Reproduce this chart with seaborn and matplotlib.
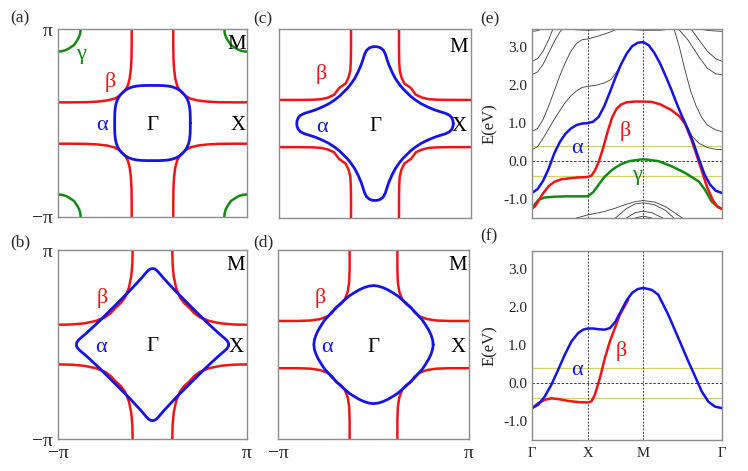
import numpy as np
import matplotlib
matplotlib.use("Agg")
import matplotlib.pyplot as plt
from matplotlib.ticker import MultipleLocator
import seaborn as sns

# ---------------------------------------------------------------------------
# Fermi surfaces: first quadrant only (kx, ky in units of pi), mirrored later
# ---------------------------------------------------------------------------
A_ALPHA_KX = [0.40, 0.40, 0.398, 0.393, 0.383, 0.368, 0.347, 0.32, 0.29, 0.255, 0.215, 0.17, 0.12, 0.06, 0.0]
A_ALPHA_KY = [0.0, 0.06, 0.12, 0.17, 0.215, 0.255, 0.29, 0.32, 0.347, 0.368, 0.383, 0.393, 0.398, 0.40, 0.40]
A_BETA_KX = [0.22, 0.22, 0.222, 0.228, 0.24, 0.26, 0.285, 0.32, 0.355, 0.40, 0.48, 0.58, 0.70, 0.85, 1.0]
A_BETA_KY = [1.0, 0.85, 0.70, 0.58, 0.48, 0.40, 0.355, 0.32, 0.285, 0.26, 0.24, 0.228, 0.222, 0.22, 0.22]
A_GAMMA_KX = [0.76, 0.764, 0.776, 0.796, 0.83, 0.88, 0.918, 0.958, 1.0]
A_GAMMA_KY = [1.0, 0.958, 0.918, 0.88, 0.83, 0.796, 0.776, 0.764, 0.76]

B_ALPHA_KX = [0.805, 0.802, 0.79, 0.765, 0.70, 0.56, 0.405, 0.25, 0.12, 0.065, 0.04, 0.02, 0.0]
B_ALPHA_KY = [0.0, 0.02, 0.04, 0.065, 0.12, 0.25, 0.405, 0.56, 0.70, 0.765, 0.79, 0.802, 0.805]
B_BETA_KX = [0.21, 0.213, 0.225, 0.25, 0.29, 0.335, 0.39, 0.44, 0.50, 0.60, 0.72, 0.85, 1.0]
B_BETA_KY = [1.0, 0.85, 0.72, 0.60, 0.50, 0.44, 0.39, 0.335, 0.29, 0.25, 0.225, 0.213, 0.21]

C_ALPHA_KX = [0.815, 0.812, 0.80, 0.775, 0.735, 0.68, 0.62, 0.55, 0.48, 0.42, 0.37, 0.33,
              0.29, 0.25, 0.21, 0.175, 0.145, 0.125, 0.108, 0.088, 0.06, 0.03, 0.0]
C_ALPHA_KY = [0.0, 0.03, 0.06, 0.088, 0.108, 0.125, 0.145, 0.175, 0.21, 0.25, 0.29, 0.33,
              0.37, 0.42, 0.48, 0.55, 0.62, 0.68, 0.735, 0.775, 0.80, 0.812, 0.815]
C_BETA_KX = [0.25, 0.25, 0.252, 0.258, 0.275, 0.305, 0.375, 0.425, 0.49, 0.56, 0.65, 0.80, 1.0]
C_BETA_KY = [1.0, 0.80, 0.65, 0.56, 0.49, 0.425, 0.375, 0.305, 0.275, 0.258, 0.252, 0.25, 0.25]

D_ALPHA_KX = [0.625, 0.619, 0.603, 0.58, 0.55, 0.515, 0.475, 0.435, 0.39, 0.345, 0.30,
              0.255, 0.20, 0.15, 0.10, 0.05, 0.0]
D_ALPHA_KY = [0.0, 0.05, 0.10, 0.15, 0.20, 0.255, 0.30, 0.345, 0.39, 0.435, 0.475,
              0.515, 0.55, 0.58, 0.603, 0.619, 0.625]
D_BETA_KX = [0.25, 0.25, 0.255, 0.27, 0.30, 0.34, 0.395, 0.43, 0.48, 0.56, 0.66, 0.80, 1.0]
D_BETA_KY = [1.0, 0.80, 0.66, 0.56, 0.48, 0.43, 0.395, 0.34, 0.30, 0.27, 0.255, 0.25, 0.25]

# ---------------------------------------------------------------------------
# Band structure along Gamma - X - M - Gamma (path length units)
# ---------------------------------------------------------------------------
K_TICKS = [0.0, 1.0, 2.0, 3.414]
K_LABELS = ["\u0393", "X", "M", "\u0393"]

E_ALPHA_K = [0.0, 0.1, 0.2, 0.3, 0.4, 0.5, 0.6, 0.7, 0.8, 0.9, 1.0, 1.1, 1.2, 1.3, 1.4, 1.5,
             1.6, 1.7, 1.8, 1.9, 2.0, 2.1, 2.2, 2.3, 2.4, 2.5, 2.6, 2.7, 2.8, 2.9, 3.0, 3.1,
             3.2, 3.3, 3.414]
E_ALPHA_E = [-0.84, -0.74, -0.52, -0.20, 0.20, 0.50, 0.72, 0.86, 0.95, 0.99, 1.0, 1.04, 1.17,
             1.45, 1.82, 2.20, 2.55, 2.83, 3.03, 3.12, 3.14, 3.05, 2.85, 2.58, 2.25, 1.90, 1.52,
             1.17, 0.85, 0.48, 0.05, -0.35, -0.62, -0.78, -0.84]
E_BETA_K = [0.0, 0.05, 0.11, 0.2, 0.3, 0.4, 0.53, 0.7, 0.85, 1.0, 1.07, 1.13, 1.2, 1.28, 1.36,
            1.44, 1.52, 1.6, 1.7, 1.85, 2.0, 2.15, 2.3, 2.5, 2.65, 2.75, 2.87, 2.96, 3.05, 3.15,
            3.25, 3.33, 3.414]
E_BETA_E = [-1.25, -1.2, -1.06, -0.85, -0.66, -0.55, -0.48, -0.45, -0.43, -0.42, -0.38, -0.25,
            -0.02, 0.35, 0.78, 1.15, 1.38, 1.49, 1.55, 1.57, 1.57, 1.56, 1.50, 1.35, 1.18, 0.98,
            0.55, 0.15, -0.25, -0.70, -1.03, -1.20, -1.26]
E_GAMMA_K = [0.0, 0.06, 0.12, 0.23, 0.4, 0.6, 0.8, 1.0, 1.1, 1.2, 1.3, 1.45, 1.6, 1.75, 2.0,
             2.27, 2.5, 2.75, 3.0, 3.11, 3.23, 3.35, 3.414]
E_GAMMA_E = [-1.25, -1.12, -1.02, -0.96, -0.94, -0.93, -0.93, -0.93, -0.82, -0.62, -0.42, -0.22,
             -0.08, 0.0, 0.05, 0.0, -0.13, -0.31, -0.54, -0.76, -1.07, -1.22, -1.26]

# other (thin) bands in panel (e): list of (k, E) pairs
E_OTHER_BANDS = [
    ([0.0, 0.1, 0.2, 0.3, 0.4, 0.5, 0.6, 0.7, 0.8, 0.9, 1.0, 1.15, 1.3, 1.42, 1.52, 1.6],
     [0.30, 0.38, 0.60, 0.85, 1.10, 1.33, 1.55, 1.72, 1.85, 1.94, 1.97, 2.0, 2.06, 2.15, 2.35, 2.55]),
    ([0.0, 0.1, 0.2, 0.3, 0.4, 0.5, 0.6, 0.7, 0.8, 0.9, 1.0, 1.2, 1.4, 1.55],
     [0.78, 0.86, 1.10, 1.45, 1.85, 2.25, 2.60, 2.90, 3.10, 3.20, 3.22, 3.30, 3.40, 3.50]),
    ([0.0, 0.1, 0.2, 0.3, 0.4, 0.5, 0.55], [2.28, 2.35, 2.55, 2.85, 3.15, 3.40, 3.50]),
    ([0.0, 0.1, 0.2, 0.3, 0.38], [2.63, 2.70, 2.90, 3.20, 3.50]),
    ([0.0, 0.1, 0.2], [3.42, 3.44, 3.50]),
    ([0.6, 0.8, 1.0, 1.2, 1.4], [3.50, 3.46, 3.45, 3.46, 3.50]),
    ([1.75, 2.0, 2.3, 2.5], [3.47, 3.45, 3.45, 3.48]),
    ([2.55, 2.65, 2.75, 2.85, 2.95, 3.05, 3.15, 3.3, 3.414],
     [3.50, 3.00, 2.40, 1.85, 1.45, 1.15, 0.95, 0.82, 0.78]),
    ([2.62, 2.8, 3.0, 3.15, 3.3, 3.414], [3.50, 3.20, 2.75, 2.45, 2.30, 2.28]),
    ([2.85, 3.0, 3.15, 3.3, 3.414], [3.50, 3.20, 2.90, 2.70, 2.63]),
    ([2.7, 2.78, 2.88, 3.0, 3.15, 3.3, 3.414], [1.17, 0.90, 0.65, 0.47, 0.36, 0.31, 0.30]),
    ([3.0, 3.2, 3.414], [3.48, 3.44, 3.42]),
    ([0.8, 1.0, 1.3, 1.5, 1.67, 1.85, 2.0, 2.2, 2.4, 2.6, 2.7],
     [-1.50, -1.42, -1.33, -1.24, -1.15, -1.07, -1.04, -1.08, -1.20, -1.40, -1.50]),
    ([1.5, 1.7, 1.85, 2.0, 2.2, 2.4, 2.55], [-1.50, -1.25, -1.13, -1.10, -1.15, -1.30, -1.50]),
    ([1.7, 1.85, 2.0, 2.15, 2.35], [-1.50, -1.36, -1.32, -1.36, -1.50]),
    ([1.85, 2.0, 2.15], [-1.50, -1.45, -1.50]),
]

F_ALPHA_K = [0.0, 0.11, 0.23, 0.35, 0.47, 0.59, 0.71, 0.83, 0.92, 1.0, 1.1, 1.2, 1.3, 1.4,
             1.5, 1.6, 1.7, 1.8, 1.9, 2.0, 2.15, 2.27, 2.45, 2.63, 2.81, 2.93, 3.05, 3.17,
             3.29, 3.414]
F_ALPHA_E = [-0.66, -0.57, -0.35, -0.04, 0.35, 0.75, 1.10, 1.32, 1.41, 1.44, 1.44, 1.42, 1.41,
             1.45, 1.62, 1.90, 2.18, 2.38, 2.48, 2.51, 2.46, 2.33, 1.80, 1.19, 0.57, 0.18, -0.22,
             -0.49, -0.62, -0.66]
F_BETA_K = [0.0, 0.11, 0.23, 0.35, 0.47, 0.65, 0.83, 1.0, 1.07, 1.13, 1.22, 1.31, 1.40, 1.49,
            1.58, 1.73]
F_BETA_E = [-0.66, -0.53, -0.44, -0.40, -0.42, -0.47, -0.50, -0.51, -0.48, -0.31, 0.13, 0.66,
            1.10, 1.45, 1.80, 2.20]

E_WINDOW = [-0.4, 0.4]

BLUE = "#1414e8"
RED = "#f01414"
GREEN = "#138a13"
SPINE = "#8c8c8c"
SERIF = ["Liberation Serif", "DejaVu Serif"]


def closed_loop(qx, qy):
    qx, qy = np.asarray(qx), np.asarray(qy)
    xs = np.concatenate([qx, -qx[::-1], -qx, qx[::-1]])
    ys = np.concatenate([qy, qy[::-1], -qy, -qy[::-1]])
    return xs, ys


def four_arcs(qx, qy):
    qx, qy = np.asarray(qx), np.asarray(qy)
    return [(sx * qx, sy * qy) for sx, sy in [(1, 1), (-1, 1), (-1, -1), (1, -1)]]


def line(ax, x, y, color, lw):
    sns.lineplot(x=np.asarray(x), y=np.asarray(y), sort=False, estimator=None,
                 color=color, lw=lw, ax=ax, legend=False)


def style_box(ax):
    for s in ax.spines.values():
        s.set_color(SPINE)
        s.set_linewidth(1.0)


def fermi_panel(ax, alpha, beta, gamma, labels, xticks, yticks):
    for x, y in four_arcs(*beta):
        line(ax, x, y, RED, 1.8)
    if gamma is not None:
        for x, y in four_arcs(*gamma):
            line(ax, x, y, GREEN, 1.8)
    line(ax, *closed_loop(*alpha), BLUE, 2.0)
    ax.set_xlim(-1, 1)
    ax.set_ylim(-1, 1)
    ax.set_xticks([-1, 1] if xticks else [])
    ax.set_yticks([-1, 1] if yticks else [])
    if xticks:
        ax.set_xticklabels(["\u2212\u03c0", "\u03c0"])
    if yticks:
        ax.set_yticklabels(["\u2212\u03c0", "\u03c0"])
    ax.tick_params(length=0, labelsize=14, pad=4)
    style_box(ax)
    for txt, (x, y), c in labels:
        size = 15 if c == "black" else 16
        ax.text(x, y, txt, color=c, fontsize=size, ha="center", va="center_baseline")


def band_panel(ax, bands, others, labels, show_x):
    for k, e in others:
        line(ax, k, e, "#3a3a3a", 0.6)
    for v in E_WINDOW:
        ax.axhline(v, color="#d2d26a", lw=0.9, zorder=1)
    ax.axhline(0.0, color="#222222", lw=0.6, ls=(0, (3, 2)), zorder=1)
    for kv in K_TICKS[1:3]:
        ax.axvline(kv, color="#444444", lw=0.7, ls=(0, (2, 1.5)), zorder=1)
    for k, e, c in bands:
        line(ax, k, e, c, 1.8)
    ax.set_xlim(K_TICKS[0], K_TICKS[-1])
    ax.set_ylim(-1.5, 3.48)
    ax.yaxis.set_major_locator(MultipleLocator(1.0))
    ax.yaxis.set_minor_locator(MultipleLocator(0.5))
    ax.set_yticks([-1, 0, 1, 2, 3])
    ax.set_yticklabels(["-1.0", "0.0", "1.0", "2.0", "3.0"])
    ax.set_xticks(K_TICKS)
    ax.set_xticklabels(K_LABELS if show_x else [])
    ax.tick_params(axis="y", which="both", direction="in", color=SPINE, labelsize=11)
    ax.tick_params(axis="y", which="major", length=3)
    ax.tick_params(axis="y", which="minor", length=2)
    ax.tick_params(axis="x", length=0, labelsize=10.5, pad=5)
    ax.set_ylabel("E(eV)", fontsize=12)
    ax.yaxis.set_label_coords(-0.18, 0.5)
    style_box(ax)
    for txt, (x, y), c in labels:
        ax.text(x, y, txt, color=c, fontsize=16, ha="center", va="center_baseline")


def main():
    sns.set_theme(style="white")
    plt.rcParams["font.family"] = SERIF

    fig = plt.figure(figsize=(7.48, 4.71), dpi=100)
    ax_a = fig.add_axes([0.0775, 0.5393, 0.2527, 0.399])
    ax_b = fig.add_axes([0.0775, 0.0679, 0.2527, 0.401])
    ax_c = fig.add_axes([0.373, 0.5372, 0.2567, 0.401])
    ax_d = fig.add_axes([0.3717, 0.0679, 0.2553, 0.401])
    ax_e = fig.add_axes([0.7112, 0.5372, 0.254, 0.401])
    ax_f = fig.add_axes([0.7112, 0.0658, 0.254, 0.401])

    k = "black"
    fermi_panel(ax_a, (A_ALPHA_KX, A_ALPHA_KY), (A_BETA_KX, A_BETA_KY), (A_GAMMA_KX, A_GAMMA_KY),
                [("\u0393", (0, 0), k), ("X", (0.91, 0), k), ("M", (0.89, 0.865), k),
                 ("\u03b1", (-0.535, 0), BLUE), ("\u03b2", (-0.45, 0.46), RED),
                 ("\u03b3", (-0.76, 0.76), GREEN)], False, True)
    fermi_panel(ax_b, (B_ALPHA_KX, B_ALPHA_KY), (B_BETA_KX, B_BETA_KY), None,
                [("\u0393", (0, 0.01), k), ("X", (0.88, 0), k), ("M", (0.88, 0.86), k),
                 ("\u03b1", (-0.55, 0), BLUE), ("\u03b2", (-0.53, 0.52), RED)], True, True)
    fermi_panel(ax_c, (C_ALPHA_KX, C_ALPHA_KY), (C_BETA_KX, C_BETA_KY), None,
                [("\u0393", (0, 0), k), ("X", (0.88, 0), k), ("M", (0.87, 0.83), k),
                 ("\u03b1", (-0.555, -0.02), BLUE), ("\u03b2", (-0.555, 0.55), RED)], False, False)
    fermi_panel(ax_d, (D_ALPHA_KX, D_ALPHA_KY), (D_BETA_KX, D_BETA_KY), None,
                [("\u0393", (0, 0), k), ("X", (0.885, 0), k), ("M", (0.885, 0.86), k),
                 ("\u03b1", (-0.49, 0), BLUE), ("\u03b2", (-0.56, 0.52), RED)], True, False)

    band_panel(ax_e, [(E_GAMMA_K, E_GAMMA_E, GREEN), (E_BETA_K, E_BETA_E, RED),
                      (E_ALPHA_K, E_ALPHA_E, BLUE)], E_OTHER_BANDS,
               [("\u03b1", (0.81, 0.39), BLUE), ("\u03b2", (1.67, 0.87), RED),
                ("\u03b3", (1.88, -0.31), GREEN)], False)
    band_panel(ax_f, [(F_BETA_K, F_BETA_E, RED), (F_ALPHA_K, F_ALPHA_E, BLUE)], [],
               [("\u03b1", (0.81, 0.40), BLUE), ("\u03b2", (1.61, 0.92), RED)], True)

    for lab, (x, y) in zip(["(a)", "(b)", "(c)", "(d)", "(e)", "(f)"],
                           [(0.027, 0.962), (0.027, 0.486), (0.352, 0.958),
                            (0.352, 0.486), (0.655, 0.958), (0.653, 0.499)]):
        fig.text(x, y, lab, fontsize=12.5, ha="center", va="center")

    fig.savefig("out.png", dpi=100)
    plt.close(fig)


if __name__ == "__main__":
    main()
